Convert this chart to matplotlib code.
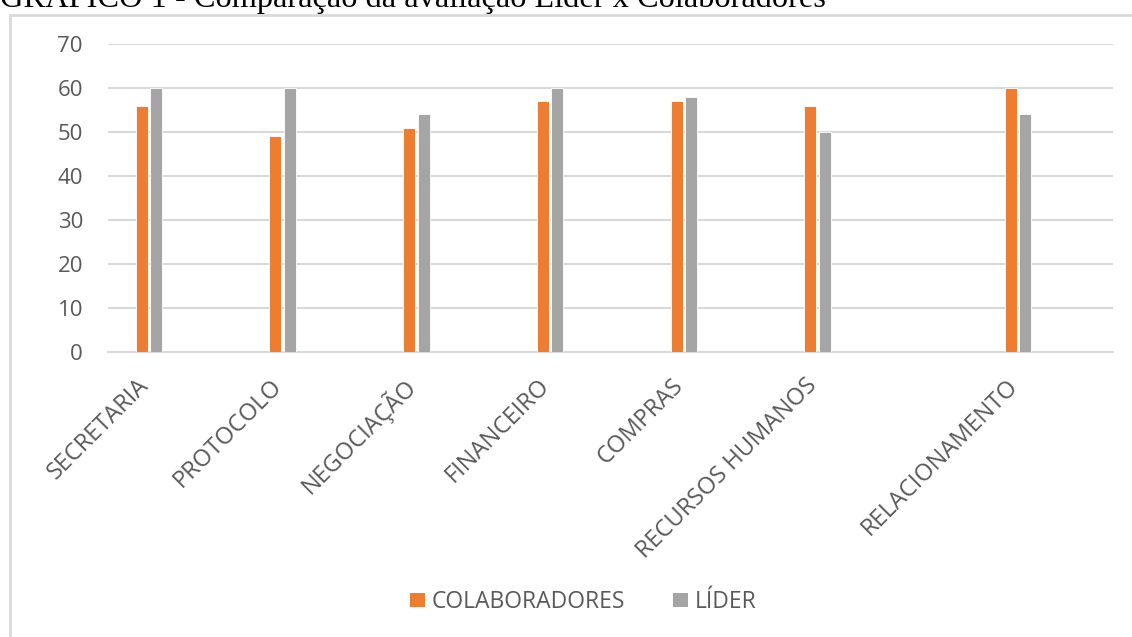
import matplotlib
matplotlib.use("Agg")
import matplotlib.pyplot as plt
from matplotlib.patches import Rectangle, Patch
from matplotlib.transforms import ScaledTranslation

# dados do gráfico
categorias = ["SECRETARIA", "PROTOCOLO", "NEGOCIAÇÃO", "FINANCEIRO",
              "COMPRAS", "RECURSOS HUMANOS", "RELACIONAMENTO"]
posicoes = [0, 1, 2, 3, 4, 5, 6.5]
colaboradores = [56, 49, 51, 57, 57, 56, 60]
lider = [60, 60, 54, 60, 58, 50, 54]
series = ["COLABORADORES", "LÍDER"]

cor_laranja = "#ED7D31"
cor_cinza = "#A5A5A5"
cor_texto = "#595959"
cor_grade = "#D9D9D9"

plt.rcParams["font.family"] = ["Open Sans", "DejaVu Sans"]

fig = plt.figure(figsize=(11.32, 6.37), dpi=100)
ax = fig.add_axes([108 / 1132, 1 - 351.7 / 637, (1113 - 108) / 1132, (351.7 - 44) / 637])

# moldura do gráfico (cortada à direita e embaixo)
fig.patches.append(Rectangle((10 / 1132, -0.1), 1.2, 1.1 - 15 / 637,
                             transform=fig.transFigure, fill=False,
                             edgecolor=cor_grade, linewidth=2, zorder=0))

# título cortado no topo
fig.text(0.0, 1 - 7 / 637, "GRÁFICO 1 - Comparação da avaliação Líder x Colaboradores",
         family=["Liberation Serif"], fontsize=23.3, color="black", ha="left", va="baseline")

larg = 0.09
desl = 0.054
x1 = [p - desl for p in posicoes]
x2 = [p + desl for p in posicoes]
ax.bar(x1, colaboradores, width=larg, color=cor_laranja, edgecolor="white", linewidth=0.6, zorder=3)
ax.bar(x2, lider, width=larg, color=cor_cinza, edgecolor="white", linewidth=0.6, zorder=3)

ax.set_ylim(0, 70)
ax.set_xlim(-0.306, 7.21)
ax.set_yticks(range(0, 71, 10))
ax.grid(axis="y", color=cor_grade, linewidth=1.5, zorder=0)
ax.set_axisbelow(True)
for s in ["top", "right", "left"]:
    ax.spines[s].set_visible(False)
ax.spines["bottom"].set_color(cor_grade)
ax.spines["bottom"].set_linewidth(1.5)
ax.tick_params(axis="both", length=0, colors=cor_texto)
ax.tick_params(axis="y", pad=18, labelsize=16)

ax.set_xticks(posicoes)
ax.set_xticklabels(categorias, rotation=45, ha="right", va="center", rotation_mode="anchor")
ax.tick_params(axis="x", pad=22, labelsize=17)
desloc = ScaledTranslation(-4 / 100, 0, fig.dpi_scale_trans)
for t in ax.get_xticklabels():
    t.set_transform(t.get_transform() + desloc)

handles = [Patch(facecolor=cor_laranja), Patch(facecolor=cor_cinza)]
fig.legend(handles, series, loc="center", bbox_to_anchor=(583 / 1132, 1 - 602 / 637),
           ncol=2, frameon=False, fontsize=16.5, labelcolor=cor_texto,
           handlelength=0.65, handleheight=0.55, handletextpad=0.3, columnspacing=2.1)

fig.savefig("out.png", dpi=100)
